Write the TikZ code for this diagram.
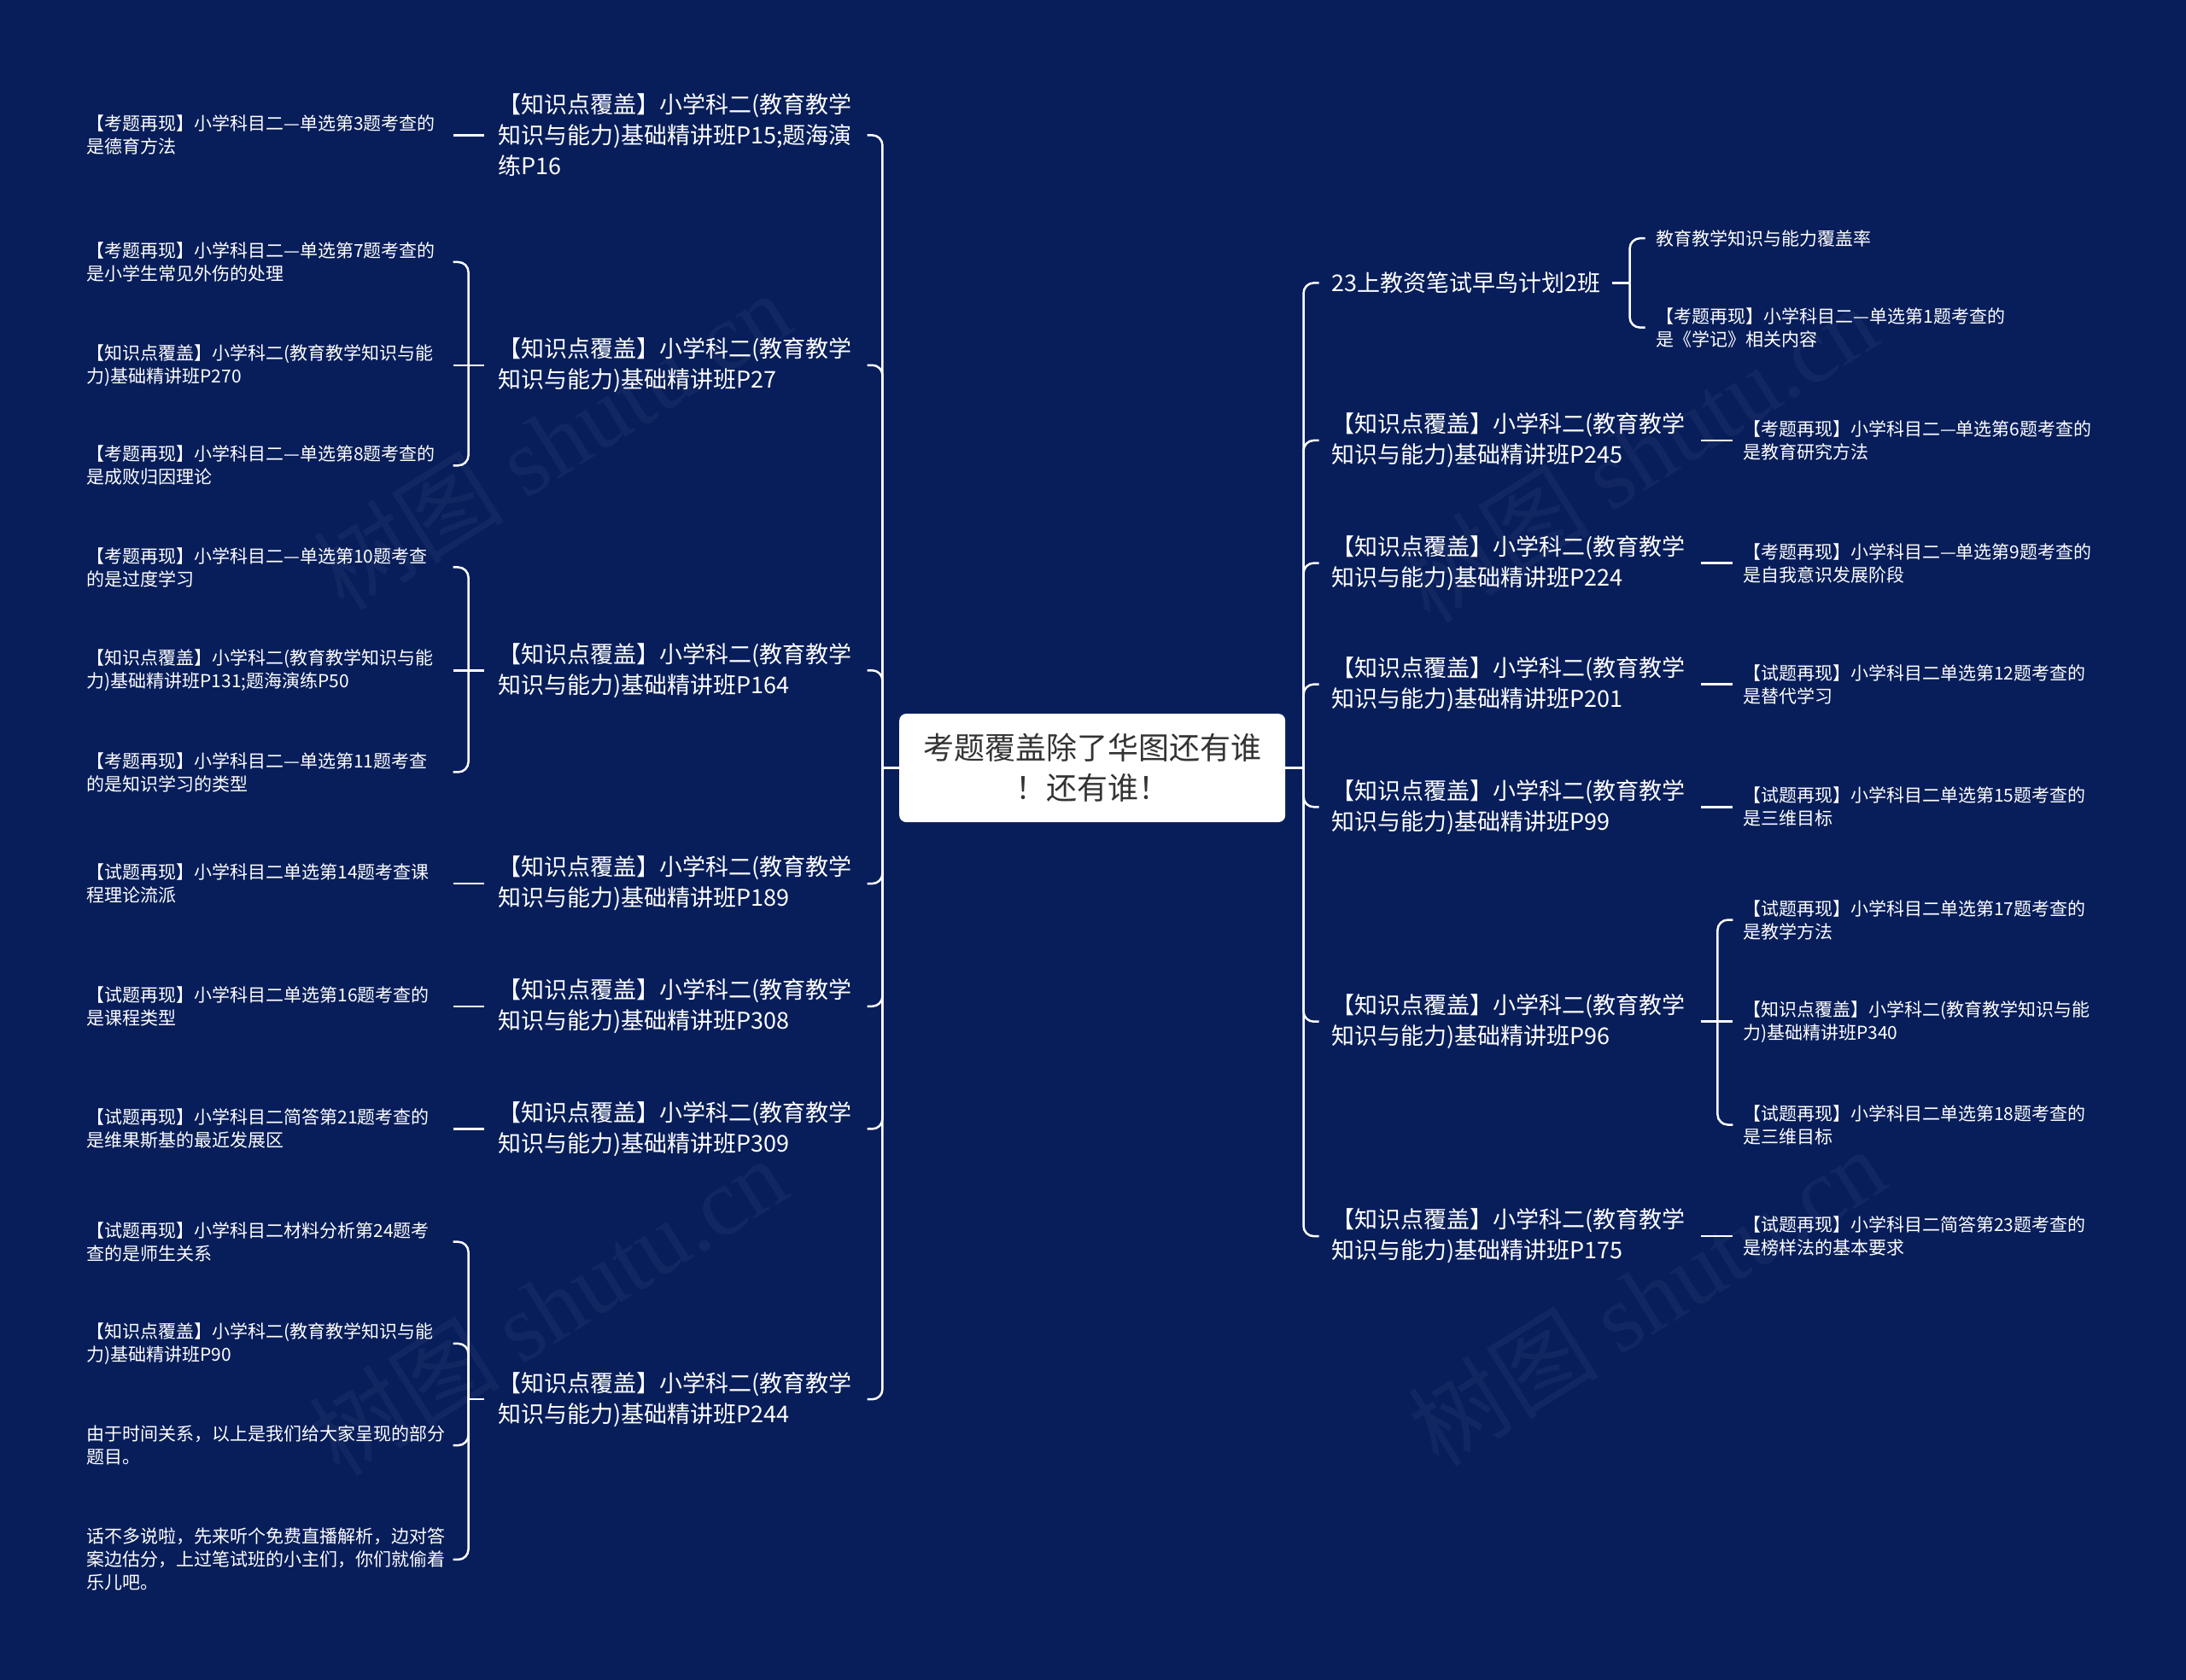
\documentclass[tikz,border=0pt]{standalone}
\usepackage{fontspec}
\newfontfamily\cjk{Noto Sans CJK SC}
\newfontfamily\wmserif{Liberation Serif}
\definecolor{bg}{RGB}{8,30,90}
\definecolor{ctext}{RGB}{51,51,51}
\begin{document}
\begin{tikzpicture}[x=1.6327pt,y=-1.6327pt,
  conn/.style={draw=white,line width=2.5pt,rounded corners=12pt},
  lone/.style={font={\cjk\fontsize{27}{36}\selectfont},text=white,align=left,inner sep=0pt,anchor=west},
  ltwo/.style={font={\cjk\fontsize{21}{27}\selectfont},text=white,align=left,inner sep=0pt,anchor=west},
  wm/.style={font={\fontsize{112}{112}\selectfont},text=white,opacity=0.045,rotate=32}]
\fill[bg] (0,0) rectangle (1568,1205.37);
\useasboundingbox (0,0) rectangle (1568,1205.37);

% watermarks
\node[wm] (wm1) at (396,316) {\cjk 树图\ \wmserif shutu.cn};
\node[wm] (wm2) at (393,937) {\cjk 树图\ \wmserif shutu.cn};
\node[wm] (wm3) at (1175,325) {\cjk 树图\ \wmserif shutu.cn};
\node[wm] (wm4) at (1181,930) {\cjk 树图\ \wmserif shutu.cn};

% center
\node[fill=white,rounded corners=8pt,minimum width=452pt,minimum height=127pt,
  align=center,text=ctext,font={\cjk\fontsize{36}{47}\selectfont},inner sep=0pt]
  (center) at (783.5,551) {考题覆盖除了华图还有谁\\！还有谁！};

% left level 1
\node[lone] (A1) at (357,97) {【知识点覆盖】小学科二(教育教学\\知识与能力)基础精讲班P15;题海演\\练P16};
\node[lone] (A2) at (357,262) {【知识点覆盖】小学科二(教育教学\\知识与能力)基础精讲班P27};
\node[lone] (A3) at (357,481) {【知识点覆盖】小学科二(教育教学\\知识与能力)基础精讲班P164};
\node[lone] (A4) at (357,634) {【知识点覆盖】小学科二(教育教学\\知识与能力)基础精讲班P189};
\node[lone] (A5) at (357,722) {【知识点覆盖】小学科二(教育教学\\知识与能力)基础精讲班P308};
\node[lone] (A6) at (357,810) {【知识点覆盖】小学科二(教育教学\\知识与能力)基础精讲班P309};
\node[lone] (A7) at (357,1004) {【知识点覆盖】小学科二(教育教学\\知识与能力)基础精讲班P244};

% left level 2
\node[ltwo] (a11) at (62,97) {【考题再现】小学科目二—单选第3题考查的\\是德育方法};
\node[ltwo] (a21) at (62,188) {【考题再现】小学科目二—单选第7题考查的\\是小学生常见外伤的处理};
\node[ltwo] (a22) at (62,262) {【知识点覆盖】小学科二(教育教学知识与能\\力)基础精讲班P270};
\node[ltwo] (a23) at (62,334) {【考题再现】小学科目二—单选第8题考查的\\是成败归因理论};
\node[ltwo] (a31) at (62,407) {【考题再现】小学科目二—单选第10题考查\\的是过度学习};
\node[ltwo] (a32) at (62,481) {【知识点覆盖】小学科二(教育教学知识与能\\力)基础精讲班P131;题海演练P50};
\node[ltwo] (a33) at (62,554) {【考题再现】小学科目二—单选第11题考查\\的是知识学习的类型};
\node[ltwo] (a41) at (62,634) {【试题再现】小学科目二单选第14题考查课\\程理论流派};
\node[ltwo] (a51) at (62,722) {【试题再现】小学科目二单选第16题考查的\\是课程类型};
\node[ltwo] (a61) at (62,810) {【试题再现】小学科目二简答第21题考查的\\是维果斯基的最近发展区};
\node[ltwo] (a71) at (62,891) {【试题再现】小学科目二材料分析第24题考\\查的是师生关系};
\node[ltwo] (a72) at (62,964) {【知识点覆盖】小学科二(教育教学知识与能\\力)基础精讲班P90};
\node[ltwo] (a73) at (62,1037) {由于时间关系，以上是我们给大家呈现的部分\\题目。};
\node[ltwo] (a74) at (62,1119) {话不多说啦，先来听个免费直播解析，边对答\\案边估分，上过笔试班的小主们，你们就偷着\\乐儿吧。};

% right level 1
\node[lone] (B1) at (955,203) {23上教资笔试早鸟计划2班};
\node[lone] (B2) at (955,316) {【知识点覆盖】小学科二(教育教学\\知识与能力)基础精讲班P245};
\node[lone] (B3) at (955,404) {【知识点覆盖】小学科二(教育教学\\知识与能力)基础精讲班P224};
\node[lone] (B4) at (955,491) {【知识点覆盖】小学科二(教育教学\\知识与能力)基础精讲班P201};
\node[lone] (B5) at (955,579) {【知识点覆盖】小学科二(教育教学\\知识与能力)基础精讲班P99};
\node[lone] (B6) at (955,733) {【知识点覆盖】小学科二(教育教学\\知识与能力)基础精讲班P96};
\node[lone] (B7) at (955,887) {【知识点覆盖】小学科二(教育教学\\知识与能力)基础精讲班P175};

% right level 2
\node[ltwo] (b11) at (1188,171) {教育教学知识与能力覆盖率};
\node[ltwo] (b12) at (1188,235) {【考题再现】小学科目二—单选第1题考查的\\是《学记》相关内容};
\node[ltwo] (b21) at (1250,316) {【考题再现】小学科目二—单选第6题考查的\\是教育研究方法};
\node[ltwo] (b31) at (1250,404) {【考题再现】小学科目二—单选第9题考查的\\是自我意识发展阶段};
\node[ltwo] (b41) at (1250,491) {【试题再现】小学科目二单选第12题考查的\\是替代学习};
\node[ltwo] (b51) at (1250,579) {【试题再现】小学科目二单选第15题考查的\\是三维目标};
\node[ltwo] (b61) at (1250,660) {【试题再现】小学科目二单选第17题考查的\\是教学方法};
\node[ltwo] (b62) at (1250,733) {【知识点覆盖】小学科二(教育教学知识与能\\力)基础精讲班P340};
\node[ltwo] (b63) at (1250,807) {【试题再现】小学科目二单选第18题考查的\\是三维目标};
\node[ltwo] (b71) at (1250,887) {【试题再现】小学科目二简答第23题考查的\\是榜样法的基本要求};

% trunk coordinates
\coordinate (LT) at (633,0); \coordinate (LS) at (622,0);
\coordinate (RT) at (935,0); \coordinate (RS) at (946,0);
\coordinate (LB) at (336,0); \coordinate (LE) at (325,0);
\coordinate (RB1) at (1169,0); \coordinate (RE1) at (1180,0);
\coordinate (RB) at (1232,0); \coordinate (RE) at (1243,0);

% left trunk
\draw[conn] (center.west) -- (LT |- center.west);
\foreach \n in {A1,A2,A3,A4,A5,A6,A7}
  \draw[conn] (LT |- center.west) |- (LS |- \n.east);

% right trunk
\draw[conn] (center.east) -- (RT |- center.east);
\foreach \n in {B1,B2,B3,B4,B5,B6,B7}
  \draw[conn] (RT |- center.east) |- (RS |- \n.west);

% left level 2 connectors
\draw[conn] ([xshift=-16pt]A1.west) -- (LE |- a11.east);
\draw[conn] ([xshift=-16pt]A4.west) -- (LE |- a41.east);
\draw[conn] ([xshift=-16pt]A5.west) -- (LE |- a51.east);
\draw[conn] ([xshift=-16pt]A6.west) -- (LE |- a61.east);

\draw[conn] ([xshift=-16pt]A2.west) -- (LE |- a22.east);
\draw[conn] (LB |- A2.west) |- (LE |- a21.east);
\draw[conn] (LB |- A2.west) |- (LE |- a23.east);

\draw[conn] ([xshift=-16pt]A3.west) -- (LE |- a32.east);
\draw[conn] (LB |- A3.west) |- (LE |- a31.east);
\draw[conn] (LB |- A3.west) |- (LE |- a33.east);

\draw[conn] ([xshift=-16pt]A7.west) -- (LB |- A7.west);
\draw[conn] (LB |- A7.west) |- (LE |- a71.east);
\draw[conn] (LB |- A7.west) |- (LE |- a72.east);
\draw[conn] (LB |- A7.west) |- (LE |- a73.east);
\draw[conn] (LB |- A7.west) |- (LE |- a74.east);

% right level 2 connectors
\draw[conn] ([xshift=13pt]B1.east) -- (RB1 |- B1.east);
\draw[conn] (RB1 |- B1.east) |- (RE1 |- b11.west);
\draw[conn] (RB1 |- B1.east) |- (RE1 |- b12.west);

\draw[conn] (RB |- B2.east) ++(-12,0) -- (RE |- b21.west);
\draw[conn] (RB |- B3.east) ++(-12,0) -- (RE |- b31.west);
\draw[conn] (RB |- B4.east) ++(-12,0) -- (RE |- b41.west);
\draw[conn] (RB |- B5.east) ++(-12,0) -- (RE |- b51.west);
\draw[conn] (RB |- B7.east) ++(-12,0) -- (RE |- b71.west);

\draw[conn] (RB |- B6.east) ++(-12,0) -- (RE |- b62.west);
\draw[conn] (RB |- B6.east) |- (RE |- b61.west);
\draw[conn] (RB |- B6.east) |- (RE |- b63.west);
\end{tikzpicture}
\end{document}
